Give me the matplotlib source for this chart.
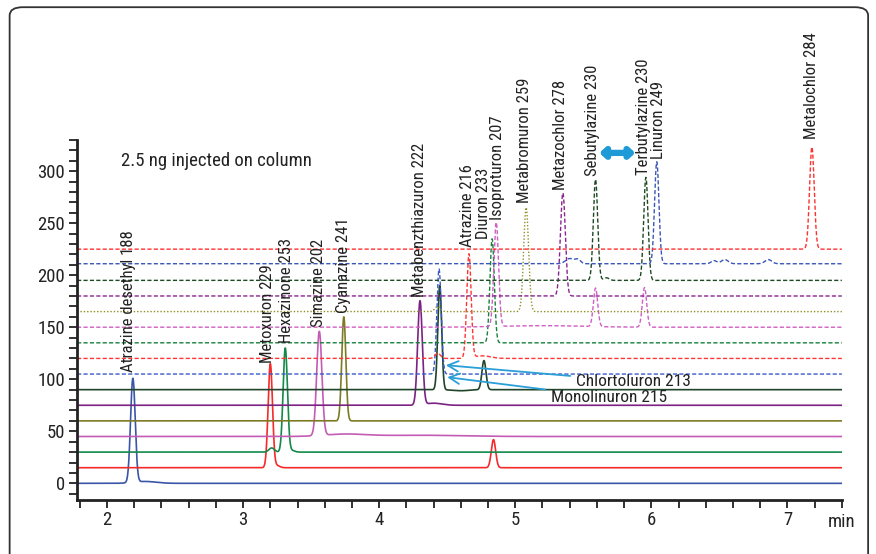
import numpy as np
import matplotlib
matplotlib.use("Agg")
import matplotlib.pyplot as plt
from matplotlib.patches import FancyBboxPatch
from matplotlib.ticker import MultipleLocator

plt.rcParams["font.family"] = ["Roboto Condensed", "DejaVu Sans"]

# each trace: baseline level, then peaks as (retention time, apex value, width)
solid_baselines = [0, 15, 30, 45, 60, 75, 90]
solid_colors = ["#3b55a8", "#f52a2a", "#14894a", "#c45cb5", "#7d7a25", "#7b2283", "#21452a"]
solid_peaks = [
    [(2.19, 100, 0.017), (2.28, 1.8, 0.08)],
    [(3.20, 115, 0.016), (3.25, 17, 0.02), (4.84, 42, 0.016)],
    [(3.21, 34, 0.02), (3.31, 130, 0.016), (3.36, 31.5, 0.02)],
    [(3.56, 145, 0.019), (3.75, 47.2, 0.15), (4.3, 46.2, 0.3)],
    [(3.74, 160, 0.015)],
    [(4.30, 175, 0.017), (4.40, 77, 0.06)],
    [(4.445, 190, 0.014), (4.6, 89, 0.06), (4.77, 118, 0.015)],
]

dashed_baselines = [105, 120, 135, 150, 165, 180, 195, 211, 225]
dashed_colors = ["#3a5ac8", "#ff3535", "#17803c", "#d05ec4", "#8f8f2a", "#8a2390",
                 "#1d4a22", "#3a56b8", "#ff3030"]
dashed_styles = ["dash", "dash", "dash", "dash", "dot", "dash", "dash", "dash", "dash"]
dashed_peaks = [
    [(4.44, 206, 0.016)],
    [(4.43, 125, 0.02), (4.66, 220, 0.016), (4.76, 122.5, 0.06)],
    [(4.83, 235, 0.016)],
    [(4.86, 250, 0.017), (5.2, 151.5, 0.3), (5.59, 187, 0.016), (5.95, 188, 0.016)],
    [(4.43, 170, 0.02), (5.08, 265, 0.018)],
    [(5.35, 279, 0.018)],
    [(5.59, 292, 0.016), (5.67, 197.5, 0.02), (5.96, 294, 0.016)],
    [(5.40, 216, 0.03), (5.46, 215, 0.02), (6.04, 309, 0.016), (6.46, 214, 0.02),
     (6.54, 215, 0.025), (6.86, 215, 0.025)],
    [(7.18, 323, 0.017)],
]

compound_names = ["Atrazine desethyl 188", "Metoxuron 229", "Hexazinone 253", "Simazine 202",
                  "Cyanazine 241", "Metabenzthiazuron 222", "Atrazine 216", "Diuron 233",
                  "Isoproturon 207", "Metabromuron 259", "Metazochlor 278", "Sebutylazine 230",
                  "Terbutylazine 230", "Linuron 249", "Metalochlor 284"]
label_times = [2.16, 3.18, 3.32, 3.555, 3.74, 4.30, 4.65, 4.77, 4.87, 5.07, 5.33, 5.57, 5.94, 6.05, 7.18]
label_heights = [107, 116, 135, 150, 164, 179, 227, 235, 253, 269, 282, 295, 296, 312, 331]

arrow_names = ["Chlortoluron 213", "Monolinuron 215"]
arrow_targets = [(4.49, 113.5), (4.50, 102)]
arrow_text_pos = [(5.445, 98), (5.26, 82.5)]


def trace(t, base, peaks):
    y = np.full_like(t, float(base))
    for rt, apex, w in peaks:
        y += (apex - base) * np.exp(-0.5 * ((t - rt) / w) ** 2)
    return y


def main():
    fig = plt.figure(figsize=(8.76, 5.54), dpi=100)
    ax = fig.add_axes([0.088, 0.0975, 0.873, 0.65])

    t = np.linspace(1.78, 7.4, 4000)

    for base, col, pk in zip(solid_baselines, solid_colors, solid_peaks):
        ax.plot(t, trace(t, base, pk), color=col, lw=1.2)

    for base, col, st, pk in zip(dashed_baselines, dashed_colors, dashed_styles, dashed_peaks):
        ls = (0, (1, 1.4)) if st == "dot" else (0, (3, 1.6))
        ax.plot(t, trace(t, base, pk), color=col, lw=1.0, linestyle=ls)

    # peak labels
    for name, lx, ly in zip(compound_names, label_times, label_heights):
        ax.text(lx, ly, name, rotation=90, ha="center", va="bottom", fontsize=12,
                color="#222222", clip_on=False)

    for name, tgt, pos in zip(arrow_names, arrow_targets, arrow_text_pos):
        ax.annotate(name, xy=tgt, xytext=pos, fontsize=12.5, color="#222222",
                    ha="left", va="center",
                    arrowprops=dict(arrowstyle="->,head_length=0.6,head_width=0.3",
                                    color="#2a9fd8", lw=1.3, shrinkA=2, shrinkB=0))

    # double arrow between the two co-eluting peaks
    ax.annotate("", xy=(5.882, 317.5), xytext=(5.618, 317.5),
                arrowprops=dict(arrowstyle="<|-|>,head_length=0.3,head_width=0.28",
                                color="#1e9ad6", lw=4.5, shrinkA=0, shrinkB=0))

    ax.text(2.103, 310, "2.5 ng injected on column", fontsize=13.5, color="#222222",
            va="center", ha="left")

    ax.set_xlim(1.78, 7.4)
    ax.set_ylim(-16, 330)
    ax.set_xticks([2, 3, 4, 5, 6, 7])
    ax.set_yticks([0, 50, 100, 150, 200, 250, 300])
    ax.xaxis.set_minor_locator(MultipleLocator(0.2))
    ax.yaxis.set_minor_locator(MultipleLocator(10))
    ax.tick_params(which="both", direction="out", width=1.3, color="#222222", length=5.5,
                   labelsize=13.5, labelcolor="#222222")
    ax.tick_params(axis="y", which="major", pad=3)
    ax.tick_params(axis="x", which="major", pad=9)
    for tk in ax.xaxis.get_major_ticks():
        tk.label1.set_verticalalignment("center")

    for side in ["top", "right"]:
        ax.spines[side].set_visible(False)
    ax.spines["left"].set_linewidth(2)
    ax.spines["bottom"].set_linewidth(2)
    ax.spines["left"].set_color("#222222")
    ax.spines["bottom"].set_color("#222222")
    ax.patch.set_alpha(0)

    ax.text(1.0, -0.062, "min", transform=ax.transAxes, ha="center", va="center",
            fontsize=13.5, color="#222222")

    border = FancyBboxPatch((0.011, -0.02), 0.98, 1.007, boxstyle="round,pad=0,rounding_size=0.015",
                            transform=fig.transFigure, fill=False, edgecolor="#333333", lw=1.3)
    fig.patches.append(border)

    fig.savefig("out.png", dpi=100)


if __name__ == "__main__":
    main()
